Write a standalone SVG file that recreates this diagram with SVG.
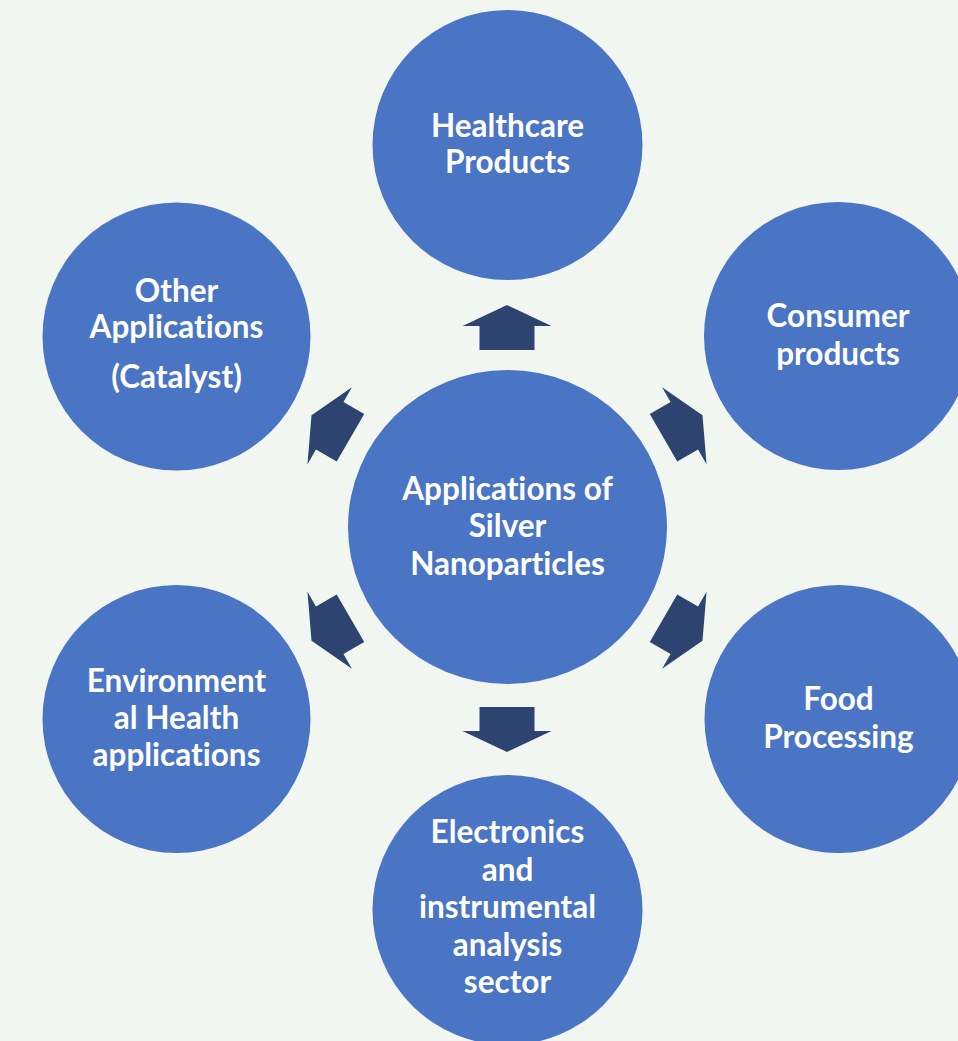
<svg xmlns="http://www.w3.org/2000/svg" width="958" height="1041" viewBox="0 0 958 1041">
<style>
.node{fill:#4a74c4}
.lbl{font-family:Lato,"Liberation Sans",sans-serif;font-weight:bold;font-size:31.5px;fill:#ffffff;text-anchor:middle;font-variant-ligatures:none}
.arr{fill:#2e4470}
</style>
<defs>
<polygon id="arrow" points="0,-22.5 44.5,-1.5 27.5,-1.5 27.5,22.5 -27.5,22.5 -27.5,-1.5 -44.5,-1.5"/>
</defs>
<rect width="958" height="1041" fill="#f2f6f1"/>
<g id="connectors" class="arr">
<use href="#arrow" transform="translate(507,327.5)"/>
<use href="#arrow" transform="translate(683,426.5) rotate(60)"/>
<use href="#arrow" transform="translate(683,629.5) rotate(120)"/>
<use href="#arrow" transform="translate(507,729.5) rotate(180)"/>
<use href="#arrow" transform="translate(331,629.5) rotate(240)"/>
<use href="#arrow" transform="translate(331,426.5) rotate(300)"/>
</g>
<g id="center">
<ellipse class="node" cx="507.5" cy="527" rx="159.5" ry="157"/>
<text class="lbl" x="507.5" y="500">Applications of</text>
<text class="lbl" x="507.5" y="537">Silver</text>
<text class="lbl" x="507.5" y="575">Nanoparticles</text>
</g>
<g id="healthcare">
<circle class="node" cx="507.5" cy="145" r="135"/>
<text class="lbl" x="507.5" y="137">Healthcare</text>
<text class="lbl" x="507.5" y="173">Products</text>
</g>
<g id="consumer">
<circle class="node" cx="838" cy="336" r="134"/>
<text class="lbl" x="838" y="327">Consumer</text>
<text class="lbl" x="838" y="365">products</text>
</g>
<g id="food">
<circle class="node" cx="838.5" cy="719" r="134"/>
<text class="lbl" x="838.5" y="710">Food</text>
<text class="lbl" x="838.5" y="748">Processing</text>
</g>
<g id="electronics">
<circle class="node" cx="507.5" cy="910" r="135"/>
<text class="lbl" x="507.5" y="843">Electronics</text>
<text class="lbl" x="507.5" y="881">and</text>
<text class="lbl" x="507.5" y="918">instrumental</text>
<text class="lbl" x="507.5" y="956">analysis</text>
<text class="lbl" x="507.5" y="993">sector</text>
</g>
<g id="environmental">
<circle class="node" cx="176.5" cy="719" r="134"/>
<text class="lbl" x="176.5" y="692">Environment</text>
<text class="lbl" x="176.5" y="729">al Health</text>
<text class="lbl" x="176.5" y="766">applications</text>
</g>
<g id="other">
<circle class="node" cx="176.5" cy="336.5" r="134"/>
<text class="lbl" x="176.5" y="302">Other</text>
<text class="lbl" x="176.5" y="338">Applications</text>
<text class="lbl" x="176.5" y="388">(Catalyst)</text>
</g>
</svg>
